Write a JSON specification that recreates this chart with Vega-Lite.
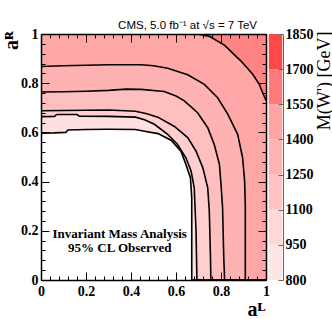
{
  "$schema": "https://vega.github.io/schema/vega-lite/v6.json",
  "background": "white",
  "padding": {"left": 1, "top": 19, "right": 0, "bottom": 0},
  "bounds": "flush",
  "spacing": 2,
  "resolve": {"scale": {"color": "independent"}},
  "config": {"view": {"stroke": null}, "font": "Liberation Serif"},
  "datasets": {
    "contours": [
      {"lev": 1, "aL": 0, "aR": 0.597}, {"lev": 1, "aL": 0.06, "aR": 0.598}, {"lev": 1, "aL": 0.11, "aR": 0.6}, {"lev": 1, "aL": 0.12, "aR": 0.61}, {"lev": 1, "aL": 0.2, "aR": 0.612}, {"lev": 1, "aL": 0.3, "aR": 0.613}, {"lev": 1, "aL": 0.42, "aR": 0.612}, {"lev": 1, "aL": 0.46, "aR": 0.605}, {"lev": 1, "aL": 0.52, "aR": 0.595}, {"lev": 1, "aL": 0.578, "aR": 0.568}, {"lev": 1, "aL": 0.622, "aR": 0.524}, {"lev": 1, "aL": 0.644, "aR": 0.47}, {"lev": 1, "aL": 0.664, "aR": 0.416}, {"lev": 1, "aL": 0.67, "aR": 0.335}, {"lev": 1, "aL": 0.67, "aR": 0}, {"lev": 1, "aL": 1, "aR": 0},
      {"lev": 2, "aL": 0, "aR": 0.664}, {"lev": 2, "aL": 0.06, "aR": 0.665}, {"lev": 2, "aL": 0.07, "aR": 0.673}, {"lev": 2, "aL": 0.16, "aR": 0.673}, {"lev": 2, "aL": 0.17, "aR": 0.666}, {"lev": 2, "aL": 0.3, "aR": 0.665}, {"lev": 2, "aL": 0.42, "aR": 0.662}, {"lev": 2, "aL": 0.46, "aR": 0.651}, {"lev": 2, "aL": 0.504, "aR": 0.633}, {"lev": 2, "aL": 0.563, "aR": 0.592}, {"lev": 2, "aL": 0.607, "aR": 0.551}, {"lev": 2, "aL": 0.644, "aR": 0.497}, {"lev": 2, "aL": 0.667, "aR": 0.443}, {"lev": 2, "aL": 0.681, "aR": 0.375}, {"lev": 2, "aL": 0.689, "aR": 0.2}, {"lev": 2, "aL": 0.693, "aR": 0}, {"lev": 2, "aL": 1, "aR": 0},
      {"lev": 3, "aL": 0, "aR": 0.688}, {"lev": 3, "aL": 0.2, "aR": 0.69}, {"lev": 3, "aL": 0.3, "aR": 0.691}, {"lev": 3, "aL": 0.42, "aR": 0.686}, {"lev": 3, "aL": 0.47, "aR": 0.676}, {"lev": 3, "aL": 0.519, "aR": 0.662}, {"lev": 3, "aL": 0.593, "aR": 0.624}, {"lev": 3, "aL": 0.652, "aR": 0.579}, {"lev": 3, "aL": 0.689, "aR": 0.524}, {"lev": 3, "aL": 0.719, "aR": 0.457}, {"lev": 3, "aL": 0.741, "aR": 0.375}, {"lev": 3, "aL": 0.748, "aR": 0.28}, {"lev": 3, "aL": 0.753, "aR": 0.1}, {"lev": 3, "aL": 0.755, "aR": 0}, {"lev": 3, "aL": 1, "aR": 0},
      {"lev": 4, "aL": 0, "aR": 0.764}, {"lev": 4, "aL": 0.1, "aR": 0.765}, {"lev": 4, "aL": 0.2, "aR": 0.767}, {"lev": 4, "aL": 0.3, "aR": 0.771}, {"lev": 4, "aL": 0.38, "aR": 0.776}, {"lev": 4, "aL": 0.444, "aR": 0.775}, {"lev": 4, "aL": 0.548, "aR": 0.766}, {"lev": 4, "aL": 0.6, "aR": 0.748}, {"lev": 4, "aL": 0.637, "aR": 0.728}, {"lev": 4, "aL": 0.696, "aR": 0.68}, {"lev": 4, "aL": 0.741, "aR": 0.619}, {"lev": 4, "aL": 0.77, "aR": 0.551}, {"lev": 4, "aL": 0.793, "aR": 0.47}, {"lev": 4, "aL": 0.8, "aR": 0.389}, {"lev": 4, "aL": 0.807, "aR": 0.294}, {"lev": 4, "aL": 0.812, "aR": 0.1}, {"lev": 4, "aL": 0.816, "aR": 0}, {"lev": 4, "aL": 1, "aR": 0},
      {"lev": 5, "aL": 0, "aR": 0.868}, {"lev": 5, "aL": 0.1, "aR": 0.871}, {"lev": 5, "aL": 0.2, "aR": 0.873}, {"lev": 5, "aL": 0.3, "aR": 0.875}, {"lev": 5, "aL": 0.444, "aR": 0.875}, {"lev": 5, "aL": 0.5, "aR": 0.871}, {"lev": 5, "aL": 0.563, "aR": 0.861}, {"lev": 5, "aL": 0.652, "aR": 0.834}, {"lev": 5, "aL": 0.726, "aR": 0.795}, {"lev": 5, "aL": 0.785, "aR": 0.741}, {"lev": 5, "aL": 0.83, "aR": 0.674}, {"lev": 5, "aL": 0.874, "aR": 0.592}, {"lev": 5, "aL": 0.896, "aR": 0.497}, {"lev": 5, "aL": 0.905, "aR": 0.402}, {"lev": 5, "aL": 0.908, "aR": 0.3}, {"lev": 5, "aL": 0.908, "aR": 0}, {"lev": 5, "aL": 1, "aR": 0},
      {"lev": 6, "aL": 0.696, "aR": 1}, {"lev": 6, "aL": 0.75, "aR": 0.99}, {"lev": 6, "aL": 0.815, "aR": 0.955}, {"lev": 6, "aL": 0.889, "aR": 0.89}, {"lev": 6, "aL": 0.941, "aR": 0.836}, {"lev": 6, "aL": 0.97, "aR": 0.795}, {"lev": 6, "aL": 0.988, "aR": 0.755}, {"lev": 6, "aL": 1, "aR": 0.73}
    ],
    "bands": [
      {"lo": 800, "hi": 950}, {"lo": 950, "hi": 1100}, {"lo": 1100, "hi": 1250}, {"lo": 1250, "hi": 1400}, {"lo": 1400, "hi": 1550}, {"lo": 1550, "hi": 1700}, {"lo": 1700, "hi": 1850}
    ]
  },
  "hconcat": [
    {
      "width": 225,
      "height": 246,
      "title": {"text": "CMS, 5.0 fb⁻¹ at √s = 7 TeV", "font": "Liberation Sans", "fontSize": 11.5, "fontWeight": "normal", "anchor": "end", "frame": "group", "offset": -4, "dx": -9, "color": "black"},
      "layer": [
        {
          "data": {"name": "contours"},
          "mark": {"type": "area", "clip": true},
          "encoding": {
            "x": {"field": "aL", "type": "quantitative", "scale": {"domain": [0, 1], "nice": false, "zero": false},
              "axis": {"orient": "bottom", "values": [0, 0.04, 0.08, 0.12, 0.16, 0.2, 0.24, 0.28, 0.32, 0.36, 0.4, 0.44, 0.48, 0.52, 0.56, 0.6, 0.64, 0.68, 0.72, 0.76, 0.8, 0.84, 0.88, 0.92, 0.96, 1],
                "labelExpr": "abs(datum.value*5-round(datum.value*5))<0.001 ? format(datum.value,'.1~f') : ''",
                "tickSize": {"condition": {"test": "abs(datum.value*5-round(datum.value*5))<0.001", "value": -8}, "value": -4},
                "tickColor": "black", "domainColor": "black", "domainWidth": 1.5, "grid": false, "zindex": 1,
                "labelFont": "Liberation Serif", "labelFontWeight": "bold", "labelFontSize": 14, "labelColor": "black", "labelPadding": 12, "labelFlush": false, "labelOverlap": false,
                "title": "aᴸ", "titleFont": "Liberation Serif", "titleFontWeight": "bold", "titleFontSize": 20, "titleColor": "black", "titleX": 224, "titleY": 35, "titleAlign": "right", "titleBaseline": "alphabetic", "titleAnchor": "end"}},
            "y": {"field": "aR", "type": "quantitative", "stack": null, "scale": {"domain": [0, 1], "nice": false, "zero": false},
              "axis": {"orient": "left", "values": [0, 0.04, 0.08, 0.12, 0.16, 0.2, 0.24, 0.28, 0.32, 0.36, 0.4, 0.44, 0.48, 0.52, 0.56, 0.6, 0.64, 0.68, 0.72, 0.76, 0.8, 0.84, 0.88, 0.92, 0.96, 1],
                "labelExpr": "abs(datum.value*5-round(datum.value*5))<0.001 ? format(datum.value,'.1~f') : ''",
                "tickSize": {"condition": {"test": "abs(datum.value*5-round(datum.value*5))<0.001", "value": -8}, "value": -4},
                "tickColor": "black", "domainColor": "black", "domainWidth": 1.5, "grid": false, "zindex": 1,
                "labelFont": "Liberation Serif", "labelFontWeight": "bold", "labelFontSize": 14, "labelColor": "black", "labelPadding": 11, "labelFlush": false, "labelOverlap": false,
                "title": "aᴿ", "titleFont": "Liberation Serif", "titleFontWeight": "bold", "titleFontSize": 20, "titleColor": "black", "titleAngle": 270, "titleX": -30, "titleY": 6, "titleAlign": "center", "titleBaseline": "middle"}},
            "y2": {"datum": 1},
            "color": {"field": "lev", "type": "ordinal", "scale": {"domain": [1, 2, 3, 4, 5, 6], "range": ["#ffe0e0", "#ffcfcf", "#ffbfbf", "#ffb2b2", "#ffa6a6", "#ff8484"]}, "legend": null}
          }
        },
        {
          "data": {"name": "contours"},
          "mark": {"type": "line", "color": "black", "strokeWidth": 1.6, "clip": true},
          "encoding": {
            "x": {"field": "aL", "type": "quantitative",
              "axis": {"orient": "top", "values": [0, 0.04, 0.08, 0.12, 0.16, 0.2, 0.24, 0.28, 0.32, 0.36, 0.4, 0.44, 0.48, 0.52, 0.56, 0.6, 0.64, 0.68, 0.72, 0.76, 0.8, 0.84, 0.88, 0.92, 0.96, 1],
                "labels": false, "title": null,
                "tickSize": {"condition": {"test": "abs(datum.value*5-round(datum.value*5))<0.001", "value": -8}, "value": -4},
                "tickColor": "black", "domainColor": "black", "domainWidth": 1.5, "grid": false, "zindex": 1}},
            "y": {"field": "aR", "type": "quantitative",
              "axis": {"orient": "right", "values": [0, 0.04, 0.08, 0.12, 0.16, 0.2, 0.24, 0.28, 0.32, 0.36, 0.4, 0.44, 0.48, 0.52, 0.56, 0.6, 0.64, 0.68, 0.72, 0.76, 0.8, 0.84, 0.88, 0.92, 0.96, 1],
                "labels": false, "title": null,
                "tickSize": {"condition": {"test": "abs(datum.value*5-round(datum.value*5))<0.001", "value": -8}, "value": -4},
                "tickColor": "black", "domainColor": "black", "domainWidth": 1.5, "grid": false, "zindex": 1}},
            "detail": {"field": "lev", "type": "nominal"}
          }
        },
        {
          "data": {"values": [{"aL": 0.35, "aR": 0.185, "t": ["Invariant Mass Analysis", "95% CL Observed"]}]},
          "mark": {"type": "text", "font": "Liberation Serif", "fontWeight": "bold", "fontSize": 13, "lineHeight": 14, "align": "center", "baseline": "middle", "color": "black"},
          "encoding": {
            "x": {"field": "aL", "type": "quantitative", "axis": null},
            "y": {"field": "aR", "type": "quantitative", "axis": null},
            "text": {"field": "t"}
          }
        }
      ],
      "resolve": {"axis": {"x": "independent", "y": "independent"}}
    },
    {
      "width": 15,
      "height": 246,
      "data": {"name": "bands"},
      "mark": {"type": "bar"},
      "encoding": {
        "y": {"field": "lo", "type": "quantitative", "scale": {"domain": [800, 1850], "nice": false, "zero": false},
          "axis": {"orient": "right", "values": [800, 950, 1100, 1250, 1400, 1550, 1700, 1850], "format": "d", "tickSize": -5, "tickColor": "#666666", "domainColor": "#666666", "domainWidth": 1, "grid": false, "zindex": 1,
            "labelFont": "Liberation Serif", "labelFontWeight": "bold", "labelFontSize": 14, "labelColor": "black", "labelPadding": 7, "labelFlush": false, "labelOverlap": false,
            "title": "M(W') [GeV]", "titleFont": "Liberation Serif", "titleFontWeight": "normal", "titleFontSize": 18, "titleColor": "black", "titleAngle": 270, "titleX": 41, "titleY": -3, "titleAlign": "right", "titleBaseline": "middle"}},
        "y2": {"field": "hi"},
        "color": {"field": "lo", "type": "ordinal", "scale": {"range": ["#ffe6e6", "#ffd8d8", "#ffc3c3", "#ffb3b3", "#ffa3a3", "#ff7a7a", "#ff4848"]}, "legend": null}
      }
    }
  ]
}
